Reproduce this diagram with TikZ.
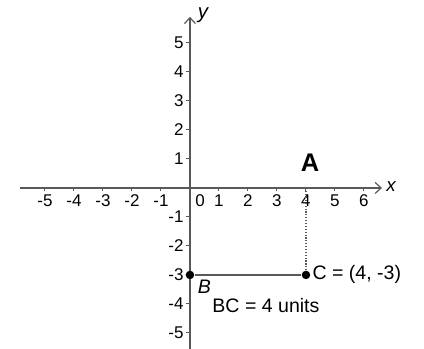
\documentclass[tikz,border=0pt]{standalone}
\usepackage{fontspec}
\setmainfont{Liberation Sans}
\usetikzlibrary{arrows.meta}

\begin{document}
\begin{tikzpicture}[x=0.6cm,y=0.6cm,
    axis/.style={black!65, line width=0.7pt, -{Straight Barb[length=3.5pt,width=6.5pt]}},
    tick/.style={black!65, line width=0.6pt},
    num/.style={font=\fontsize{10}{12}\selectfont, inner sep=1pt},
    txt/.style={font=\fontsize{11.5}{13}\selectfont, inner sep=1pt},
    pt/.style={circle, fill=black, inner sep=0pt, minimum size=5pt}]
    \useasboundingbox (-6.55,-5.55) rectangle (8.07,6.48);
    % axes
    \coordinate (xl) at (-5.86,0);
    \coordinate (xr) at (6.62,0);
    \coordinate (yb) at (0,-5.7);
    \coordinate (yt) at (0,5.9);
    \draw[axis] (xl) -- (xr);
    \draw[axis] (yb) -- (yt);
    \node[txt, anchor=west, font=\fontsize{11}{13}\selectfont\itshape] (xname) at (6.7,0.05) {x};
    \node[txt, anchor=west, font=\fontsize{12}{14}\selectfont\itshape] (yname) at (0.2,5.95) {y};
    \foreach \x in {-5,...,-1,1,2,...,6} \draw[tick] (\x,0) -- (\x,-0.12);
    \foreach \x in {-5,...,-1} \node[num] (xn\x) at (\x,-0.45) {\x};
    \foreach \x in {1,...,6} \node[num] (xn\x) at (\x,-0.45) {\x};
    \node[num] (xn0) at (0.35,-0.45) {0};
    \foreach \y in {-5,...,-1,1,2,...,5} {
        \draw[tick] (-0.15,\y) -- (0,\y);
        \node[num, anchor=east] (yn\y) at (-0.15,\y) {\y};
    }
    % points
    \node[pt] (B) at (0,-3) {};
    \node[pt] (C) at (4,-3) {};
    \coordinate (Cx) at (4,0);
    \draw[black!65, line width=0.7pt] (B) -- (C);
    \draw[black!65, line width=0.7pt, densely dotted] (C) -- (Cx);
    \node[txt, anchor=west] (Clab) at (C.east) {C = (4, -3)};
    \node[txt, font=\fontsize{11.5}{13}\selectfont\itshape] (Blab) at (0.5,-3.4) {B};
    \node[txt] (BC) at (2.62,-4.05) {BC = 4 units};
    \node[font=\fontsize{15}{17}\selectfont\bfseries] (A) at (4.14,0.86) {A};
\end{tikzpicture}
\end{document}
